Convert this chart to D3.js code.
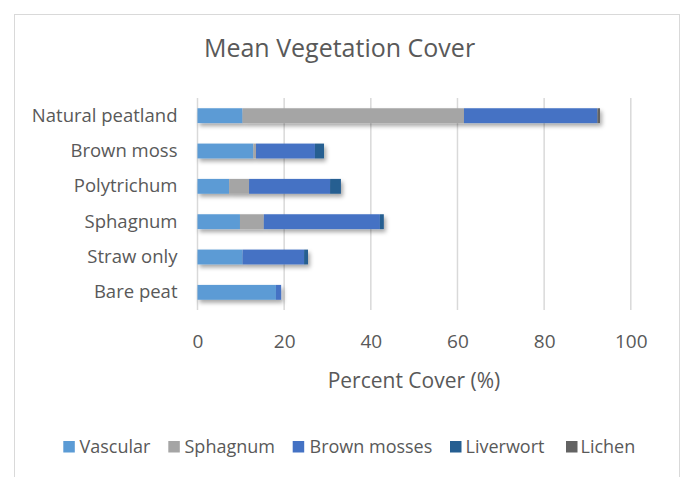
<!DOCTYPE html>
<html><head><meta charset="utf-8">
<script src="https://cdn.jsdelivr.net/npm/d3@7"></script>
<style>
body{margin:0;background:#fff;}
text{font-family:"Open Sans",sans-serif;fill:#595959;}
</style></head>
<body><svg id="c" width="683" height="477"></svg>
<script>
const categories = ["Natural peatland","Brown moss","Polytrichum","Sphagnum","Straw only","Bare peat"];
const seriesNames = ["Vascular","Sphagnum","Brown mosses","Liverwort","Lichen"];
const vascular    = [10.4, 12.9, 7.3, 9.8, 10.4, 18.1];
const sphagnum    = [51.1, 0.6, 4.6, 5.5, 0, 0];
const brownMosses = [30.8, 13.6, 18.7, 26.8, 14.2, 1.2];
const liverwort   = [0, 2.1, 2.5, 0.9, 0.9, 0];
const lichen      = [0.6, 0, 0, 0, 0, 0];
const xTicks = [0,20,40,60,80,100];
const colors = ["#5B9BD5","#A5A5A5","#4472C4","#255E91","#636363"];

const rows = categories.map((c,i)=>({cat:c, Vascular:vascular[i], Sphagnum:sphagnum[i], "Brown mosses":brownMosses[i], Liverwort:liverwort[i], Lichen:lichen[i]}));
const stack = d3.stack().keys(seriesNames)(rows);

const svg = d3.select("#c");
const defs = svg.append("defs");
const f = defs.append("filter").attr("id","sh").attr("x","-10%").attr("y","-50%").attr("width","130%").attr("height","250%");
f.append("feDropShadow").attr("dx",2).attr("dy",3).attr("stdDeviation",2).attr("flood-color","#000").attr("flood-opacity",0.35);

svg.append("rect").attr("x",14.5).attr("y",14.5).attr("width",665).attr("height",480)
  .attr("fill","#fff").attr("stroke","#d9d9d9").attr("stroke-width",1);

const x = d3.scaleLinear().domain([0,100]).range([197.5,630.8]);
const y = d3.scaleBand().domain(categories).range([98,310]).paddingInner(0.58).paddingOuter(0.29);

// gridlines
svg.append("g").selectAll("line").data(xTicks).join("line")
  .attr("x1",d=>x(d)).attr("x2",d=>x(d)).attr("y1",98).attr("y2",310)
  .attr("stroke","#d9d9d9").attr("stroke-width",1.5);

// bars
const g = svg.append("g").attr("filter","url(#sh)");
g.selectAll("g").data(stack).join("g").attr("fill",(d,i)=>colors[i])
  .selectAll("rect").data(d=>d).join("rect")
  .attr("x",d=>x(d[0])).attr("width",d=>Math.max(0,x(d[1])-x(d[0])))
  .attr("y",d=>y(d.data.cat)).attr("height",y.bandwidth());

// category axis labels
const yAxis = d3.axisLeft(y).tickSize(0).tickPadding(0);
const ya = svg.append("g").attr("transform","translate(177.5,0)").call(yAxis);
ya.select(".domain").remove();
ya.selectAll("text").style("font-size","18.5px").attr("fill","#595959").style("font-family","Open Sans");

// x axis labels
const xAxis = d3.axisBottom(x).tickValues(xTicks).tickSize(0).tickPadding(0);
const xa = svg.append("g").attr("transform","translate(0,334)").call(xAxis);
xa.select(".domain").remove();
xa.selectAll("text").style("font-size","19px").attr("fill","#595959").style("font-family","Open Sans");

svg.append("text").attr("x",414).attr("y",387.5).attr("text-anchor","middle").style("font-size","21px").text("Percent Cover (%)");
svg.append("text").attr("x",339.5).attr("y",56.7).attr("text-anchor","middle").style("font-size","25px").text("Mean Vegetation Cover");

// legend
const legSq = [63.3,168.3,292.7,450,566];
const legTx = [79.5,184.5,309.5,465.5,580.5];
const lg = svg.append("g").selectAll("g").data(seriesNames).join("g");
lg.append("rect").attr("x",(d,i)=>legSq[i]).attr("y",441).attr("width",11.5).attr("height",11.5).attr("fill",(d,i)=>colors[i]);
lg.append("text").attr("x",(d,i)=>legTx[i]).attr("y",452.7).style("font-size","18px").text(d=>d);
</script></body></html>
